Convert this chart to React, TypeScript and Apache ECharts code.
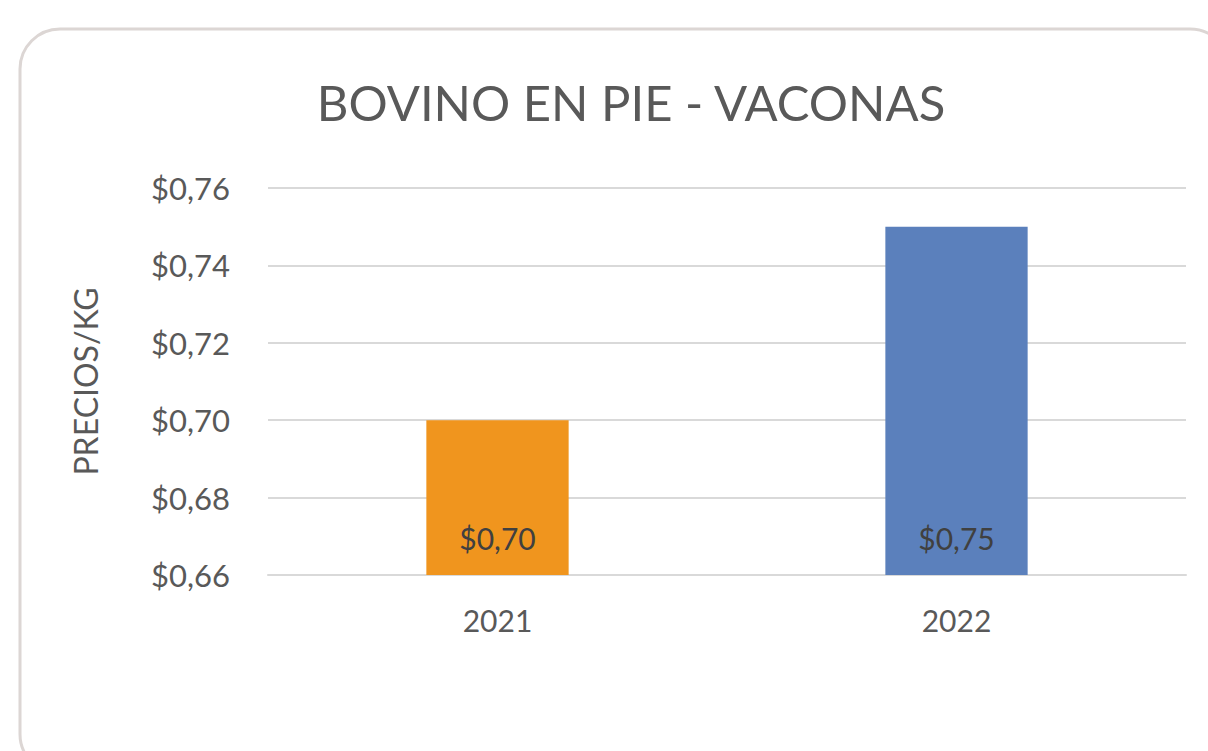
import React, { useEffect, useRef } from "react";
import * as echarts from "echarts";

const categories = ["2021", "2022"];
const prices = [0.7, 0.75];
const barColors = ["#F0951E", "#5B80BC"];
const titleText = "BOVINO EN PIE - VACONAS";
const yAxisName = "PRECIOS/KG";

const fmt = (v: number) => "$" + v.toFixed(2).replace(".", ",");

export default function App() {
  const ref = useRef<HTMLDivElement>(null);
  useEffect(() => {
    if (!ref.current) return;
    const chart = echarts.init(ref.current, undefined, { renderer: "svg" });
    const font = "Lato, 'Noto Sans', sans-serif";
    chart.setOption({
      animation: false,
      backgroundColor: "#ffffff",
      textStyle: { fontFamily: font },
      graphic: [
        {
          type: "rect",
          shape: { x: 20, y: 29, width: 1210, height: 745, r: 40 },
          style: { fill: "none", stroke: "#dcd6d4", lineWidth: 3 },
          silent: true,
          z: -1,
        },
      ],
      title: {
        text: titleText,
        left: 626,
        textAlign: "center",
        top: 72,
        textStyle: { fontFamily: font, fontSize: 49, fontWeight: "normal", color: "#595959" },
      },
      grid: { left: 268, right: 22, top: 188, bottom: 176 },
      xAxis: {
        type: "category",
        data: categories,
        axisTick: { show: false },
        axisLine: { lineStyle: { color: "#d9d9d9", width: 2 } },
        axisLabel: { color: "#595959", fontSize: 30, margin: 30, fontFamily: font },
      },
      yAxis: {
        type: "value",
        min: 0.66,
        max: 0.76,
        interval: 0.02,
        name: yAxisName,
        nameLocation: "middle",
        nameGap: 167,
        nameTextStyle: { color: "#595959", fontSize: 32, fontFamily: font },
        axisLine: { show: false },
        axisTick: { show: false },
        axisLabel: {
          color: "#595959",
          fontSize: 31,
          margin: 38,
          fontFamily: font,
          formatter: (v: number) => fmt(v),
        },
        splitLine: { lineStyle: { color: "#d9d9d9", width: 2 } },
      },
      series: [
        {
          type: "bar",
          barWidth: "31%",
          data: prices.map((v, i) => ({ value: v, itemStyle: { color: barColors[i] } })),
          label: {
            show: true,
            position: "insideBottom",
            distance: 22,
            color: "#404040",
            fontSize: 30,
            fontFamily: font,
            formatter: (p: any) => fmt(p.value),
          },
        },
      ],
    });
    return () => chart.dispose();
  }, []);
  return (
    <div
      ref={ref}
      style={{ position: "absolute", left: 0, top: 0, width: 1208, height: 751 }}
    />
  );
}
